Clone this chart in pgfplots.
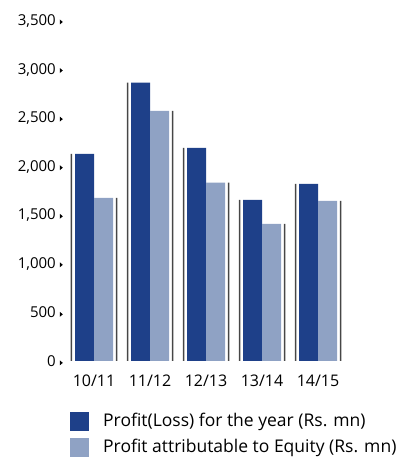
\documentclass[border=0pt]{standalone}
\usepackage{pgfplots}
\pgfplotsset{compat=1.18}
\usepackage{fontspec}
\setmainfont{Open Sans}
\definecolor{dkblue}{RGB}{30,64,137}
\definecolor{ltblue}{RGB}{143,162,196}
\definecolor{sline}{RGB}{70,70,70}
\begin{document}
\fontsize{15}{18}\selectfont
\begin{tikzpicture}
\path[use as bounding box] (0,0) rectangle (397pt,457pt);
\begin{axis}[
  at={(66pt,96pt)}, anchor=south west,
  scale only axis, width=280pt, height=340pt,
  xmin=-0.5, xmax=4.5, ymin=0, ymax=3500,
  ybar, 
  axis line style={draw=none},
  major tick length=0pt,
  xtick={0,1,2,3,4},
  xticklabels={10/11,11/12,12/13,13/14,14/15},
  ytick={0,500,...,3500},
  /pgf/number format/assume math mode=true,
  /pgf/number format/1000 sep={,},
  yticklabel={\pgfmathprintnumber{\tick}\hspace{4pt}\tikz[baseline=-1pt]\fill (0,0)--(0,5pt)--(3pt,2.5pt)--cycle;},
  yticklabel style={inner sep=0pt, xshift=-3pt, font=\fontsize{15}{18}\selectfont},
  xticklabel style={inner sep=0pt, yshift=-14pt, font=\fontsize{16}{18}\selectfont},
  legend style={at={(rel axis cs:0,0)}, anchor=north west, xshift=4pt, yshift=-51pt,
    draw=none, fill=none, inner sep=0pt, row sep=7.5pt,
    font=\fontsize{17.5}{20}\selectfont,
    legend cell align=left,
    nodes={inner sep=0pt},
    /tikz/every even column/.append style={column sep=0pt}},
  legend image code/.code={\fill[#1] (0pt,-9.5pt) rectangle (19pt,9pt);},
]
\addplot[ybar, draw=none, fill=dkblue, bar width=19pt, bar shift=-9.5pt] coordinates {(0,2132) (1,2866) (2,2194) (3,1658) (4,1823)};
\addlegendentry{\hspace{14pt}Profit(Loss) for the year (Rs. mn)}
\addplot[ybar, draw=none, fill=ltblue, bar width=19pt, bar shift=9.5pt] coordinates {(0,1679) (1,2575) (2,1836) (3,1411) (4,1648)};
\addlegendentry{\hspace{14pt}Profit attributable to Equity (Rs. mn)}
\addplot[ybar, draw=none, fill=sline, bar width=1.5pt, bar shift=-22.5pt, forget plot] coordinates {(0,2132) (1,2866) (2,2194) (3,1658) (4,1823)};
\addplot[ybar, draw=none, fill=sline, bar width=1.5pt, bar shift=22.5pt, forget plot] coordinates {(0,1679) (1,2575) (2,1836) (3,1411) (4,1648)};
\end{axis}
\end{tikzpicture}
\end{document}
